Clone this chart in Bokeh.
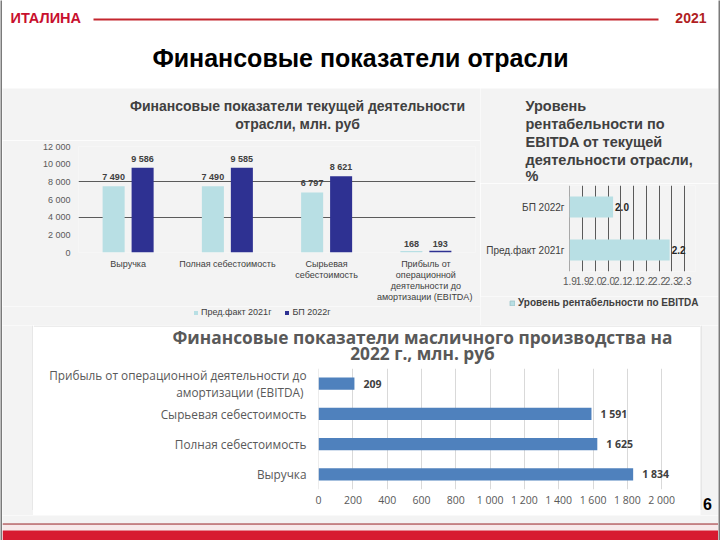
import numpy as np
from bokeh.plotting import figure
from bokeh.layouts import row, column
from bokeh.models import (ColumnDataSource, FactorRange, Range1d, LabelSet, Label,
                          Legend, LegendItem, FixedTicker)
from bokeh.transform import dodge
from bokeh.core.properties import value
from bokeh.core.validation import silence
from bokeh.core.validation.warnings import MISSING_RENDERERS
from bokeh.embed import file_html
from bokeh.resources import INLINE

silence(MISSING_RENDERERS, True)

# ---------------- data ----------------
slide_title = "Финансовые показатели отрасли"
logo_text = "ИТАЛИНА"
year_text = "2021"
page_number = "6"

ind_title = ["Финансовые показатели текущей деятельности", "отрасли, млн. руб"]
ind_categories = ["Выручка", "Полная себестоимость", "Сырьевая\nсебестоимость",
                  "Прибыль от\nоперационной\nдеятельности до\nамортизации  (EBITDA)"]
ind_fact_2021 = [7490, 7490, 6797, 168]
ind_plan_2022 = [9586, 9585, 8621, 193]
ind_series = ["Пред.факт 2021г", "БП 2022г"]
ind_y_ticks = [0, 2000, 4000, 6000, 8000, 10000, 12000]

margin_title = ["Уровень", "рентабельности по", "EBITDA от текущей",
                "деятельности отрасли,", "%"]
margin_categories = ["Пред.факт 2021г", "БП 2022г"]
margin_values = [2.2, 2.0]
margin_tick_labels = ["1.9", "1.9", "2.0", "2.0", "2.1", "2.1", "2.2", "2.2", "2.3", "2.3"]
margin_series = "Уровень рентабельности по EBITDA"

oil_title = ["Финансовые показатели масличного производства на", "2022 г., млн. руб"]
oil_categories = ["Выручка", "Полная себестоимость", "Сырьевая себестоимость",
                  "Прибыль от операционной деятельности до\nамортизации  (EBITDA)"]
oil_values = [1834, 1625, 1591, 209]
oil_x_ticks = [0, 200, 400, 600, 800, 1000, 1200, 1400, 1600, 1800, 2000]

# ---------------- styles ----------------
BG = "#f3f3f3"
LIGHT = "#b8dfe4"
DARK = "#2e3192"
OIL = "#4f81bd"
RED = "#c8102e"
EDGE = "#7a7a7a"
BOX = "#dadada"
ARIAL = "Liberation Sans"
CALIBRI = "Open Sans"


def sp(v):
    return f"{v:,}".replace(",", " ")


def blank(width, height, fill):
    """Plain canvas whose data units are its own pixels (y downwards)."""
    p = figure(width=width, height=height, output_backend="svg", toolbar_location=None,
               x_range=Range1d(0, width), y_range=Range1d(height, 0),
               x_axis_type=None, y_axis_type=None, min_border=0)
    p.outline_line_color = None
    p.background_fill_color = fill
    p.border_fill_color = fill
    return p


def iso(p):
    # wrap a plot so that Bokeh does not align its frame with its neighbours
    return column(p)


def plain_axes(p):
    for ax in p.axis:
        ax.axis_line_color = None
        ax.major_tick_line_color = None
        ax.minor_tick_line_color = None
        ax.major_tick_out = 0
        ax.major_tick_in = 0
        ax.minor_tick_out = 0
        ax.minor_tick_in = 0


def text_label(p, x, y, text, size, color="#404040", align="left", font=ARIAL, bold=True):
    p.add_layout(Label(x=x, y=y, text=text, text_align=align, text_baseline="middle",
                       text_font=font, text_font_size=size,
                       text_font_style="bold" if bold else "normal", text_color=color))


def legend_swatch(p, color, line_color=None):
    # a zero-sized bar: only its legend swatch is visible
    return p.vbar(x=[0], top=[0], bottom=[0], width=0, fill_color=color, line_color=line_color)


# ---------------- header ----------------
hdr = blank(716, 88, "white")
hdr.segment(x0=[91], y0=[19], x1=[656], y1=[19], line_color="#c4262e", line_width=2)
text_label(hdr, 8, 17, logo_text, "14.5px", color=RED)
text_label(hdr, 704, 17, year_text, "14px", color="#b01e23", align="right")
text_label(hdr, 358, 57, slide_title, "25px", color="black", align="center")

# ---------------- chart 1 ----------------
t1 = blank(478, 52, BG)
for line, yy in zip(ind_title, [17, 35]):
    text_label(t1, 295, yy, line, "14px", align="center")

src1 = ColumnDataSource(dict(cat=ind_categories, fact=ind_fact_2021, plan=ind_plan_2022,
                             fact_lbl=[sp(v) for v in ind_fact_2021],
                             plan_lbl=[sp(v) for v in ind_plan_2022]))
p1 = figure(width=478, height=166, x_range=FactorRange(factors=ind_categories),
            y_range=Range1d(0, 12000), output_backend="svg", toolbar_location=None,
            min_border_left=76, min_border_right=5, min_border_top=6, min_border_bottom=54)
p1.background_fill_color = BG
p1.border_fill_color = BG
p1.outline_line_color = None
off = 0.146
p1.vbar(x=dodge('cat', -off, range=p1.x_range), top='fact', width=0.222,
        source=src1, fill_color=LIGHT, line_color=None)
p1.vbar(x=dodge('cat', off, range=p1.x_range), top='plan', width=0.222,
        source=src1, fill_color=DARK, line_color=None)
plain_axes(p1)
p1.yaxis.ticker = FixedTicker(ticks=ind_y_ticks)
p1.yaxis.major_label_overrides = {t: sp(t) for t in ind_y_ticks}
p1.yaxis.major_label_standoff = 8
p1.yaxis.major_label_text_font_size = "9px"
p1.yaxis.major_label_text_color = "#595959"
p1.yaxis.major_label_text_font = ARIAL
p1.xaxis.major_label_standoff = 6
p1.xaxis.major_label_text_font_size = "9px"
p1.xaxis.major_label_text_color = "#404040"
p1.xaxis.major_label_text_font = ARIAL
p1.xaxis.major_label_text_line_height = 1.1
p1.xgrid.visible = False
p1.ygrid.ticker = FixedTicker(ticks=ind_y_ticks[::2])
p1.ygrid.grid_line_color = "#5a5a5a"
for xcol, ycol, tcol in [(dodge('cat', -off, range=p1.x_range), 'fact', 'fact_lbl'),
                         (dodge('cat', off, range=p1.x_range), 'plan', 'plan_lbl')]:
    p1.add_layout(LabelSet(x=xcol, y=ycol, text=tcol, source=src1, y_offset=4,
                           text_align='center', text_baseline='bottom',
                           text_font_size='9px', text_font_style='bold',
                           text_color='#404040', text_font=value(ARIAL)))

l1 = blank(478, 19, BG)
lr_f = legend_swatch(l1, LIGHT)
lr_p = legend_swatch(l1, DARK)
l1.add_layout(Legend(items=[LegendItem(label=ind_series[0], renderers=[lr_f]),
                            LegendItem(label=ind_series[1], renderers=[lr_p])],
                     location=(191, 8), orientation="horizontal", glyph_width=5,
                     glyph_height=5, label_height=10, label_standoff=3, spacing=13,
                     padding=0, margin=0, border_line_color=None, background_fill_alpha=0,
                     label_text_font_size="9px", label_text_color="#404040",
                     label_text_font=ARIAL))

# ---------------- chart 2 ----------------
t2 = blank(238, 95, BG)
for line, yy in zip(margin_title, [17, 35, 53, 71, 87]):
    text_label(t2, 45, yy, line, "14.5px")

lo = 1.846
ppu2 = 282.9  # pixels per unit, frame starts at lo
hi = lo + 126 / ppu2
src2 = ColumnDataSource(dict(cat=margin_categories, val=margin_values,
                             lbl=[f"{v:.1f}" for v in margin_values]))
p2 = figure(width=238, height=113, y_range=FactorRange(factors=margin_categories),
            x_range=Range1d(lo, hi), output_backend="svg", toolbar_location=None,
            frame_width=126, frame_height=86,
            min_border_left=89, min_border_right=23, min_border_top=2, min_border_bottom=25)
p2.background_fill_color = BG
p2.border_fill_color = BG
p2.outline_line_color = None
p2.hbar(y='cat', left=lo, right='val', height=0.49, source=src2,
        fill_color=LIGHT, line_color=None)
plain_axes(p2)
ticks2 = [float(t) for t in np.linspace(1.8475, 2.2525, len(margin_tick_labels))]
p2.xaxis.ticker = FixedTicker(ticks=ticks2)
p2.xaxis.major_label_overrides = dict(zip(ticks2, margin_tick_labels))
p2.xaxis.major_label_standoff = 5
p2.xaxis.major_label_text_font_size = "10px"
p2.xaxis.major_label_text_color = "#595959"
p2.xaxis.major_label_text_font = ARIAL
p2.yaxis.major_label_standoff = 5
p2.yaxis.major_label_text_font_size = "10px"
p2.yaxis.major_label_text_color = "#404040"
p2.yaxis.major_label_text_font = ARIAL
p2.ygrid.visible = False
p2.xgrid.ticker = FixedTicker(ticks=ticks2)
p2.xgrid.grid_line_color = "#5a5a5a"
p2.add_layout(LabelSet(x='val', y='cat', text='lbl', source=src2, x_offset=2,
                       text_align='left', text_baseline='middle', text_font_size='10px',
                       text_font_style='bold', text_color='#262626', text_font=value(ARIAL)))

l2 = blank(238, 29, BG)
lr_m = legend_swatch(l2, LIGHT, "#9fc7cc")
l2.add_layout(Legend(items=[LegendItem(label=margin_series, renderers=[lr_m])],
                     location=(29, 17), orientation="horizontal", glyph_width=6,
                     glyph_height=6, label_height=10, label_standoff=3, padding=0, margin=0,
                     border_line_color=None, background_fill_alpha=0,
                     label_text_font_size="10px", label_text_font_style="bold",
                     label_text_color="#404040", label_text_font=ARIAL))

# ---------------- chart 3 ----------------
t3 = blank(667, 41, "white")
t3.segment(x0=[0], y0=[0.5], x1=[667], y1=[0.5], line_color=BOX, line_width=1)
for line, yy in zip(oil_title, [12, 28]):
    text_label(t3, 389, yy, line, "17.3px", color="#595959", align="center", font=CALIBRI)

src3 = ColumnDataSource(dict(cat=oil_categories, val=oil_values,
                             lbl=[sp(v) for v in oil_values]))
p3 = figure(width=667, height=143, y_range=FactorRange(factors=oil_categories),
            x_range=Range1d(-0.5, 2110), output_backend="svg", toolbar_location=None,
            min_border_left=285, min_border_right=20, min_border_top=2, min_border_bottom=18)
p3.background_fill_color = "white"
p3.border_fill_color = "white"
p3.outline_line_color = None
p3.hbar(y='cat', left=0, right='val', height=0.4, source=src3, fill_color=OIL, line_color=None)
plain_axes(p3)
p3.xaxis.ticker = FixedTicker(ticks=oil_x_ticks)
p3.xaxis.major_label_overrides = {t: sp(t) for t in oil_x_ticks}
p3.xaxis.major_label_standoff = 3
p3.xaxis.major_label_text_font_size = "10.5px"
p3.xaxis.major_label_text_color = "#595959"
p3.xaxis.major_label_text_font = CALIBRI
p3.yaxis.major_label_standoff = 12
p3.yaxis.major_label_text_font_size = "11.8px"
p3.yaxis.major_label_text_color = "#595959"
p3.yaxis.major_label_text_font = CALIBRI
p3.yaxis.major_label_text_line_height = 1.05
p3.ygrid.visible = False
p3.xgrid.ticker = FixedTicker(ticks=oil_x_ticks)
p3.xgrid.grid_line_color = "#d9d9d9"
p3.add_layout(LabelSet(x='val', y='cat', text='lbl', source=src3, x_offset=9,
                       text_align='left', text_baseline='middle', text_font_size='10.5px',
                       text_font_style='bold', text_color='#404040', text_font=value(CALIBRI)))

strip = blank(667, 6, BG)
strip.segment(x0=[0], y0=[0.5], x1=[667], y1=[0.5], line_color=BOX, line_width=1)

gapL = blank(31, 190, BG)
gapL.segment(x0=[30.5], y0=[0], x1=[30.5], y1=[184.5], line_color=BOX, line_width=1)
gapR = blank(18, 190, BG)
gapR.segment(x0=[0.5], y0=[0], x1=[0.5], y1=[184.5], line_color=BOX, line_width=1)
text_label(gapR, 7, 178, page_number, "16px", color="black", align="center")

# ---------------- footer ----------------
ftr = blank(716, 25, BG)
ftr.quad(left=[0], right=[716], top=[8], bottom=[9.2], fill_color="#9e2a2f", line_color=None)
ftr.quad(left=[0], right=[716], top=[9.2], bottom=[15], fill_color="#f7e9ea", line_color=None)
ftr.quad(left=[0], right=[716], top=[15], bottom=[25], fill_color="#d71a30", line_color=None)

edgeL = blank(2, 540, EDGE)
edgeR = blank(2, 540, EDGE)

middle = row(column(iso(t1), iso(p1), iso(l1)), column(iso(t2), iso(p2), iso(l2)))
bottom = row(iso(gapL), column(iso(t3), iso(p3), iso(strip)), iso(gapR))
inner = column(iso(hdr), middle, bottom, iso(ftr))
layout = row(iso(edgeL), inner, iso(edgeR))

open("out.html", "w").write(file_html(layout, INLINE))
